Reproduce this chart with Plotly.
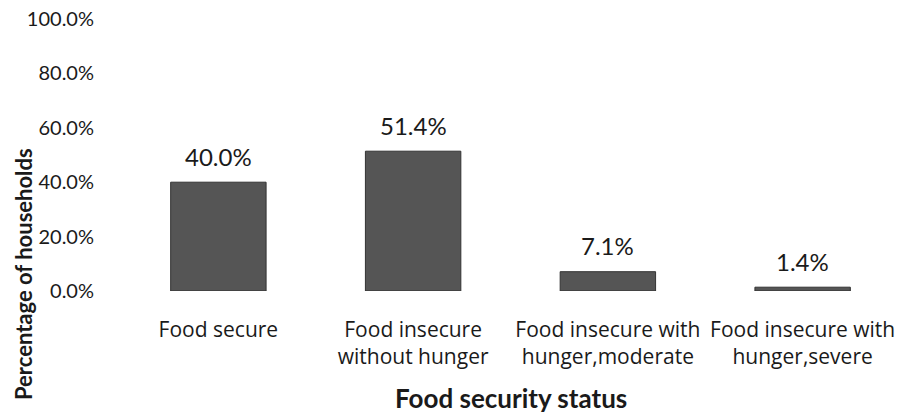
import plotly.graph_objects as go

categories = ["Food secure", "Food insecure<br>without hunger",
              "Food insecure with<br>hunger,moderate", "Food insecure with<br>hunger,severe"]
values = [0.400, 0.514, 0.071, 0.014]
y_ticks = [0, 0.2, 0.4, 0.6, 0.8, 1.0]

FONT = "Lato"
CAT_FONT = "Open Sans"
TXT = "#1a1a1a"

fig = go.Figure()
fig.add_trace(go.Bar(
    x=categories, y=values,
    marker=dict(color="#555555", line=dict(color="#333333", width=1)),
    hoverinfo="skip",
))

for c, v in zip(categories, values):
    fig.add_annotation(x=c, y=v, text=f"{v*100:.1f}%", showarrow=False,
                       yanchor="middle", yshift=26,
                       font=dict(family=FONT, size=24, color=TXT))

fig.add_annotation(xref="paper", yref="paper", x=0.5, y=-0.393,
                   text="<b>Food security status</b>", showarrow=False,
                   yanchor="middle", font=dict(family=FONT, size=26, color=TXT))
fig.add_annotation(xref="paper", yref="paper", x=-0.1258, xanchor="center",
                   y=(291 - 274) / 272, yanchor="middle", textangle=-90,
                   text="<b>Percentage of households</b>", showarrow=False,
                   font=dict(family=FONT, size=22, color=TXT))

fig.update_layout(
    width=903, height=416,
    margin=dict(l=121, r=3, t=19, b=125),
    paper_bgcolor="white", plot_bgcolor="white",
    bargap=0.51, showlegend=False,
    font=dict(family=FONT, color=TXT),
)
fig.update_xaxes(showline=False, showgrid=False, ticks="",
                 tickfont=dict(family=CAT_FONT, size=21, color=TXT),
                 ticklabelstandoff=24)
fig.update_yaxes(range=[0, 1], tickvals=y_ticks, tickformat=".1%", showgrid=False, zeroline=False,
                 showline=False, ticks="", tickfont=dict(family=FONT, size=20, color=TXT),
                 ticklabelstandoff=26)

fig.write_html("out.html")
